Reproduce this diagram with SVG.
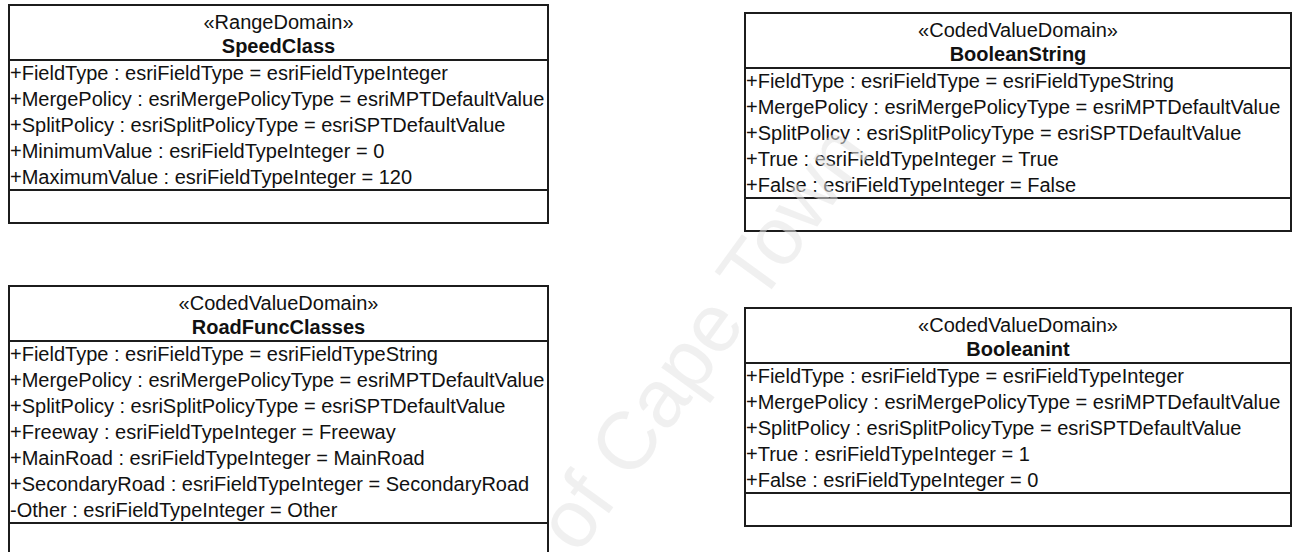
<svg xmlns="http://www.w3.org/2000/svg" width="1294" height="552" viewBox="0 0 1294 552">
<style>
.box{fill:#fff;stroke:#1c1c1c;stroke-width:2}
.sep{stroke:#1c1c1c;stroke-width:2}
text{font-family:"Liberation Sans",Arial,sans-serif;font-size:20px;fill:#111}
.st{text-anchor:middle}
.nm{text-anchor:middle;font-weight:bold}
.wm{font-size:82px;fill:#e4e4e4}
</style>
<rect width="1294" height="552" fill="#fff"/>
<g id="SpeedClass">
<rect class="box" x="9" y="5" width="539" height="218"/>
<line class="sep" x1="9" y1="60" x2="548" y2="60"/>
<line class="sep" x1="9" y1="190" x2="548" y2="190"/>
<text class="st" x="278.5" y="29">«RangeDomain»</text>
<text class="nm" x="278.5" y="53">SpeedClass</text>
<text x="10" y="80">+FieldType : esriFieldType = esriFieldTypeInteger</text>
<text x="10" y="106">+MergePolicy : esriMergePolicyType = esriMPTDefaultValue</text>
<text x="10" y="132">+SplitPolicy : esriSplitPolicyType = esriSPTDefaultValue</text>
<text x="10" y="158">+MinimumValue : esriFieldTypeInteger = 0</text>
<text x="10" y="184">+MaximumValue : esriFieldTypeInteger = 120</text>
</g>
<g id="BooleanString">
<rect class="box" x="745" y="13" width="546" height="218"/>
<line class="sep" x1="745" y1="68" x2="1291" y2="68"/>
<line class="sep" x1="745" y1="198" x2="1291" y2="198"/>
<text class="st" x="1018" y="37">«CodedValueDomain»</text>
<text class="nm" x="1018" y="61">BooleanString</text>
<text x="746" y="88">+FieldType : esriFieldType = esriFieldTypeString</text>
<text x="746" y="114">+MergePolicy : esriMergePolicyType = esriMPTDefaultValue</text>
<text x="746" y="140">+SplitPolicy : esriSplitPolicyType = esriSPTDefaultValue</text>
<text x="746" y="166">+True : esriFieldTypeInteger = True</text>
<text x="746" y="192">+False : esriFieldTypeInteger = False</text>
</g>
<g id="RoadFuncClasses">
<rect class="box" x="9" y="286" width="539" height="270"/>
<line class="sep" x1="9" y1="341" x2="548" y2="341"/>
<line class="sep" x1="9" y1="523" x2="548" y2="523"/>
<text class="st" x="278.5" y="310">«CodedValueDomain»</text>
<text class="nm" x="278.5" y="334">RoadFuncClasses</text>
<text x="10" y="361">+FieldType : esriFieldType = esriFieldTypeString</text>
<text x="10" y="387">+MergePolicy : esriMergePolicyType = esriMPTDefaultValue</text>
<text x="10" y="413">+SplitPolicy : esriSplitPolicyType = esriSPTDefaultValue</text>
<text x="10" y="439">+Freeway : esriFieldTypeInteger = Freeway</text>
<text x="10" y="465">+MainRoad : esriFieldTypeInteger = MainRoad</text>
<text x="10" y="491">+SecondaryRoad : esriFieldTypeInteger = SecondaryRoad</text>
<text x="10" y="517">-Other : esriFieldTypeInteger = Other</text>
</g>
<g id="BooleanInt">
<rect class="box" x="745" y="308" width="546" height="218"/>
<line class="sep" x1="745" y1="363" x2="1291" y2="363"/>
<line class="sep" x1="745" y1="493" x2="1291" y2="493"/>
<text class="st" x="1018" y="332">«CodedValueDomain»</text>
<text class="nm" x="1018" y="356">Booleanint</text>
<text x="746" y="383">+FieldType : esriFieldType = esriFieldTypeInteger</text>
<text x="746" y="409">+MergePolicy : esriMergePolicyType = esriMPTDefaultValue</text>
<text x="746" y="435">+SplitPolicy : esriSplitPolicyType = esriSPTDefaultValue</text>
<text x="746" y="461">+True : esriFieldTypeInteger = 1</text>
<text x="746" y="487">+False : esriFieldTypeInteger = 0</text>
</g>
<g id="connectors"/>
<text class="wm" transform="translate(578,556) rotate(-54)" style="fill-opacity:0.55">of Cape Town</text>
</svg>
